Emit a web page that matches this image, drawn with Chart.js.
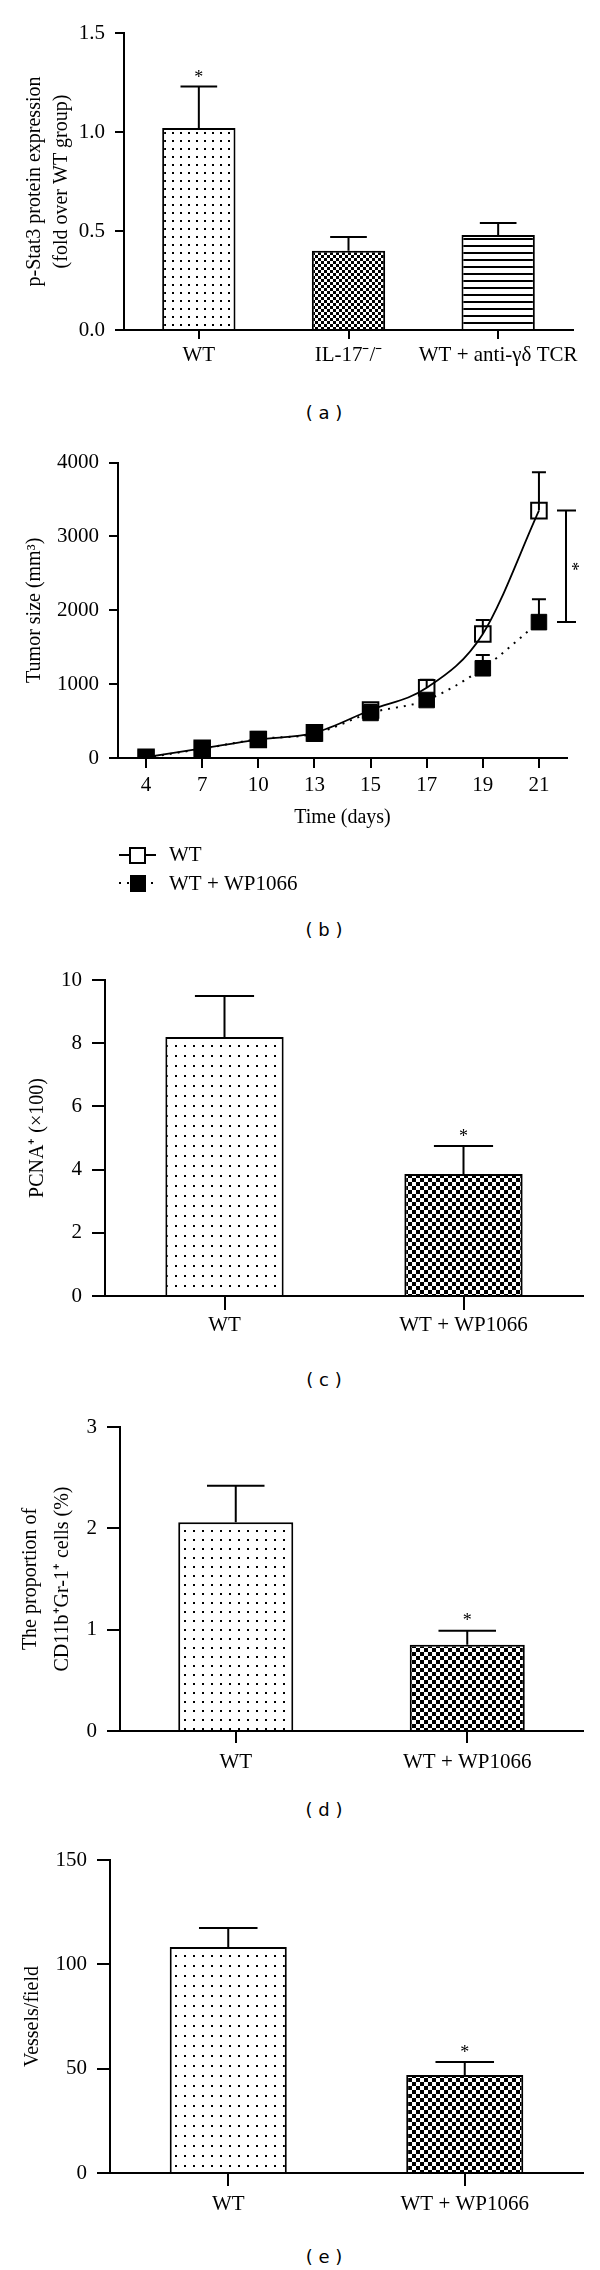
<!DOCTYPE html>
<html>
<head>
<meta charset="utf-8">
<script src="https://cdn.jsdelivr.net/npm/chart.js@4.4.1/dist/chart.umd.min.js"></script>
<style>
  body { margin: 0; background: #fff; width: 600px; height: 2270px; position: relative; overflow: hidden; }
  canvas { position: absolute; left: 0; }
  .panel { position: absolute; left: 274px; width: 100px; text-align: center; font: 18px "DejaVu Sans", sans-serif; line-height: 22px; color: #000; }
</style>
</head>
<body>
<canvas id="chartA" width="600" height="375" style="top:0px"></canvas>
<div class="panel" style="top:402px">( a )</div>
<canvas id="chartB" width="600" height="470" style="top:440px"></canvas>
<div class="panel" style="top:919px">( b )</div>
<canvas id="chartC" width="600" height="395" style="top:950px"></canvas>
<div class="panel" style="top:1369px">( c )</div>
<canvas id="chartD" width="600" height="380" style="top:1400px"></canvas>
<div class="panel" style="top:1799px">( d )</div>
<canvas id="chartE" width="600" height="400" style="top:1830px"></canvas>
<div class="panel" style="top:2246px">( e )</div>

<script>
// values
const groupsA = ["WT", "IL-17\u207B/\u207B", "WT + anti-\u03B3\u03B4 TCR"];
const stat3 = [1.02, 0.40, 0.48];
const stat3Err = [0.21, 0.07, 0.06];
const stat3Star = [true, false, false];

const days = ["4", "7", "10", "13", "15", "17", "19", "21"];
const tumorWT = [10, 130, 250, 340, 650, 950, 1680, 3350];
const tumorWTErr = [20, 30, 40, 50, 70, 110, 190, 520];
const tumorWP = [5, 125, 255, 330, 610, 785, 1215, 1840];
const tumorWPErr = [20, 30, 40, 50, 60, 70, 180, 310];

const groups2 = ["WT", "WT + WP1066"];
const pcna = [8.2, 3.86];
const pcnaErr = [1.29, 0.89];
const cd11b = [2.06, 0.85];
const cd11bErr = [0.36, 0.14];
const vessels = [108.3, 47];
const vesselsErr = [9.1, 6.2];
const starWP = [false, true];

const SERIF = '"Liberation Serif", "Times New Roman", serif';
Chart.defaults.font.family = SERIF;
Chart.defaults.font.size = 21;
Chart.defaults.color = "#000";

// fill patterns
function tile(w, h, paint) {
    const c = document.createElement("canvas");
    c.width = w; c.height = h;
    const g = c.getContext("2d");
    g.fillStyle = "#fff";
    g.fillRect(0, 0, w, h);
    g.fillStyle = "#000";
    paint(g);
    return g.createPattern(c, "repeat");
}
const dots = (w, h) => tile(w, h, g => g.fillRect(Math.floor(w / 2), Math.floor(h / 2), 2, 2));
const checker = n => tile(2 * n, 2 * n, g => { g.fillRect(0, 0, n, n); g.fillRect(n, n, n, n); });
const hlines = p => tile(4, p, g => g.fillRect(0, 0, 4, 2));

// error bars + significance stars, drawn with the y scale
function drawErrors(chart, opts) {
    const ctx = chart.ctx;
    const y = chart.scales.y;
    ctx.save();
    ctx.strokeStyle = "#000";
    ctx.fillStyle = "#000";
    ctx.lineWidth = 2;
    chart.data.datasets.forEach((ds, di) => {
        const errs = opts.errs[di];
        const stars = opts.stars ? opts.stars[di] : null;
        chart.getDatasetMeta(di).data.forEach((el, i) => {
            const base = y.getPixelForValue(ds.data[i]);
            const top = y.getPixelForValue(ds.data[i] + errs[i]);
            const half = opts.cap || el.width / 4;
            ctx.beginPath();
            ctx.moveTo(el.x, base);
            ctx.lineTo(el.x, top);
            ctx.moveTo(el.x - half, top);
            ctx.lineTo(el.x + half, top);
            ctx.stroke();
            if (stars && stars[i]) {
                ctx.font = "18px " + SERIF;
                ctx.textAlign = "center";
                ctx.textBaseline = "middle";
                ctx.fillText("*", el.x, top - (opts.starGap || 8));
            }
        });
    });
    ctx.restore();
}
const errorBars = {
    id: "errorBars",
    beforeDatasetsDraw(chart, args, opts) { if (opts.errs && opts.behind) drawErrors(chart, opts); },
    afterDatasetsDraw(chart, args, opts) { if (opts.errs && !opts.behind) drawErrors(chart, opts); }
};
Chart.register(errorBars);

function axisGrid(len) {
    return { drawOnChartArea: false, tickLength: len, color: "#000", lineWidth: 2 };
}

function barChart(id, o) {
    const a = o.area;
    return new Chart(document.getElementById(id), {
        type: "bar",
        data: {
            labels: o.labels,
            datasets: [{
                data: o.values,
                backgroundColor: o.fills,
                borderColor: "#000",
                borderWidth: 2,
                barPercentage: o.barPct,
                categoryPercentage: 1
            }]
        },
        options: {
            responsive: false,
            animation: false,
            events: [],
            devicePixelRatio: 1,
            layout: { padding: { left: 0, top: a.top, right: 600 - a.right, bottom: 0 } },
            plugins: {
                legend: { display: false },
                tooltip: { enabled: false },
                errorBars: { errs: [o.errs], stars: [o.stars], starGap: o.starGap }
            },
            scales: {
                x: {
                    grid: Object.assign(axisGrid(o.xTick), { offset: false }),
                    border: { color: "#000", width: 2 },
                    ticks: { padding: o.xPad, maxRotation: 0, autoSkip: false },
                    afterFit: s => { s.height = o.height - a.bottom; }
                },
                y: {
                    min: 0,
                    max: o.max,
                    ticks: { stepSize: o.step, padding: 10, callback: o.fmt || (v => v) },
                    grid: axisGrid(o.yTick),
                    border: { color: "#000", width: 2 },
                    title: {
                        display: true,
                        text: o.title,
                        font: { size: 20, lineHeight: o.titleLH || 1.2 },
                        padding: { top: o.titlePad, bottom: 0 }
                    },
                    afterFit: s => { s.width = a.left; }
                }
            }
        }
    });
}

// (a)
barChart("chartA", {
    labels: groupsA, values: stat3, errs: stat3Err, stars: stat3Star,
    fills: [dots(8, 8), checker(3), hlines(7)],
    area: { left: 124, right: 573, top: 33, bottom: 330 }, height: 375,
    max: 1.5, step: 0.5, fmt: v => v.toFixed(1), barPct: 0.49,
    xTick: 9, yTick: 9, xPad: 4,
    title: ["p-Stat3 protein expression", "(fold over WT group)"], titleLH: 1.35, titlePad: 21,
    starGap: 8
});

// (b)
const bLegend = {
    id: "bLegend",
    afterDraw(chart) {
        const ctx = chart.ctx;
        ctx.save();
        ctx.strokeStyle = "#000";
        ctx.fillStyle = "#000";
        ctx.lineWidth = 2;
        // WT
        ctx.beginPath(); ctx.moveTo(119, 415); ctx.lineTo(156, 415); ctx.stroke();
        ctx.fillStyle = "#fff"; ctx.fillRect(130, 408, 15, 15);
        ctx.strokeRect(130, 408, 15, 15);
        // WT + WP1066
        ctx.setLineDash([2, 6]);
        ctx.beginPath(); ctx.moveTo(119, 443); ctx.lineTo(158, 443); ctx.stroke();
        ctx.setLineDash([]);
        ctx.fillStyle = "#000"; ctx.fillRect(130, 435, 16, 17);
        ctx.font = "21px " + SERIF;
        ctx.textAlign = "left";
        ctx.textBaseline = "middle";
        ctx.fillText("WT", 169, 415);
        ctx.fillText("WT + WP1066", 169, 444);
        // significance bracket between the day-21 means
        const y = chart.scales.y;
        const x = chart.chartArea.right - 1;
        const y1 = y.getPixelForValue(tumorWT[7]);
        const y2 = y.getPixelForValue(tumorWP[7]);
        ctx.beginPath();
        ctx.moveTo(x, y1); ctx.lineTo(x, y2);
        ctx.moveTo(x - 9, y1); ctx.lineTo(x + 10, y1);
        ctx.moveTo(x - 9, y2); ctx.lineTo(x + 10, y2);
        ctx.stroke();
        ctx.translate(x + 9, (y1 + y2) / 2);
        ctx.rotate(Math.PI / 2);
        ctx.font = "18px " + SERIF;
        ctx.textAlign = "center";
        ctx.fillText("*", 0, 4);
        ctx.restore();
    }
};

new Chart(document.getElementById("chartB"), {
    type: "line",
    data: {
        labels: days,
        datasets: [
            {
                label: "WT",
                data: tumorWT,
                borderColor: "#000",
                borderWidth: 1.8,
                cubicInterpolationMode: "monotone",
                pointStyle: "rect",
                pointRadius: 11,
                pointBorderWidth: 2,
                pointBorderColor: "#000",
                pointBackgroundColor: "rgba(255,255,255,0)",
                order: 2
            },
            {
                label: "WT + WP1066",
                data: tumorWP,
                borderColor: "#000",
                borderWidth: 2,
                borderDash: [2, 6],
                cubicInterpolationMode: "monotone",
                pointStyle: "rect",
                pointRadius: 11,
                pointBorderWidth: 1,
                pointBorderColor: "#000",
                pointBackgroundColor: "#000",
                order: 1
            }
        ]
    },
    options: {
        responsive: false,
        animation: false,
        events: [],
        devicePixelRatio: 1,
        layout: { padding: { left: 0, top: 21, right: 33, bottom: 80 } },
        plugins: {
            legend: { display: false },
            tooltip: { enabled: false },
            errorBars: { errs: [tumorWTErr, tumorWPErr], cap: 7, behind: true }
        },
        scales: {
            x: {
                offset: true,
                grid: axisGrid(10),
                border: { color: "#000", width: 2 },
                ticks: { padding: 5, maxRotation: 0, autoSkip: false },
                title: { display: true, text: "Time (days)", font: { size: 20 }, padding: 0 },
                afterFit: s => { s.height = 72; }
            },
            y: {
                min: 0,
                max: 4000,
                ticks: { stepSize: 1000, padding: 10, callback: v => String(v) },
                grid: axisGrid(9),
                border: { color: "#000", width: 2 },
                title: { display: true, text: "Tumor size (mm\u00B3)", font: { size: 20 }, padding: { top: 23, bottom: 0 } },
                afterFit: s => { s.width = 118; }
            }
        }
    },
    plugins: [bLegend]
});

// (c)
barChart("chartC", {
    labels: groups2, values: pcna, errs: pcnaErr, stars: starWP,
    fills: [dots(9, 10), checker(4)],
    area: { left: 105, right: 583, top: 30, bottom: 346 }, height: 395,
    max: 10, step: 2, barPct: 0.495,
    xTick: 14, yTick: 13, xPad: 3,
    title: "PCNA\u207A (\u00D7100)", titlePad: 26, starGap: 9
});

// (d)
barChart("chartD", {
    labels: groups2, values: cd11b, errs: cd11bErr, stars: starWP,
    fills: [dots(9, 9), checker(4)],
    area: { left: 120, right: 583, top: 27, bottom: 331 }, height: 380,
    max: 3, step: 1, barPct: 0.497,
    xTick: 12, yTick: 13, xPad: 7,
    title: ["The proportion of", "CD11b\u207AGr-1\u207A cells (%)"], titleLH: 1.6, titlePad: 15, starGap: 9
});

// (e)
barChart("chartE", {
    labels: groups2, values: vessels, errs: vesselsErr, stars: starWP,
    fills: [dots(9, 10), checker(4)],
    area: { left: 110, right: 583, top: 30, bottom: 343 }, height: 400,
    max: 150, step: 50, barPct: 0.495,
    xTick: 13, yTick: 13, xPad: 6,
    title: "Vessels/field", titlePad: 21, starGap: 9
});
</script>
</body>
</html>
